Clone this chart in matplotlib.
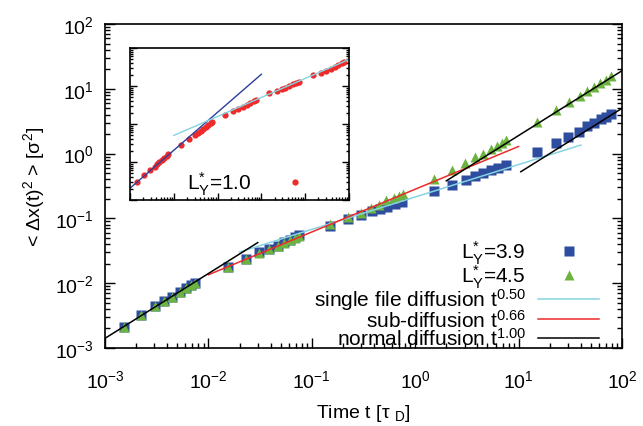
import numpy as np
import matplotlib
matplotlib.use('Agg')
import matplotlib.pyplot as plt
from matplotlib.ticker import LogLocator, NullFormatter

#### Fonts ####
plt.rcParams['font.family'] = ['Liberation Sans', 'DejaVu Sans']
plt.rcParams['mathtext.fontset'] = 'custom'
plt.rcParams['mathtext.rm'] = 'Liberation Sans'
plt.rcParams['mathtext.it'] = 'Liberation Sans:italic'
plt.rcParams['mathtext.bf'] = 'Liberation Sans:bold'
plt.rcParams['axes.unicode_minus'] = False

#### Data: L*_Y = 3.9 (squares) ####
t_39 = [0.00151, 0.00224, 0.00302, 0.00372, 0.00447, 0.00537, 0.00603, 0.00676, 0.00741,
        0.0155, 0.0229, 0.0309, 0.0389, 0.0468, 0.0537, 0.0617, 0.0692, 0.0759,
        0.151, 0.224, 0.302, 0.380, 0.457, 0.537, 0.631, 0.741,
        1.51, 2.29, 3.09, 3.80, 4.57, 5.37, 6.31, 7.59,
        15.1, 22.9, 30.2, 38.0, 45.7, 53.7, 63.1, 70.8, 77.6]
msd_39 = [0.00209, 0.00324, 0.00437, 0.00537, 0.00617, 0.00724, 0.00832, 0.00933, 0.0102,
          0.0178, 0.0240, 0.0302, 0.0339, 0.0380, 0.0427, 0.0468, 0.0513, 0.0550,
          0.0776, 0.0977, 0.112, 0.129, 0.138, 0.151, 0.166, 0.178,
          0.269, 0.331, 0.389, 0.447, 0.501, 0.550, 0.603, 0.676,
          1.07, 1.48, 1.82, 2.19, 2.63, 2.95, 3.39, 3.72, 4.07]

#### Data: L*_Y = 4.5 (triangles) ####
t_45 = [0.00151, 0.00224, 0.00302, 0.00372, 0.00447, 0.00537, 0.00603, 0.00676, 0.00741,
        0.0155, 0.0229, 0.0309, 0.0389, 0.0468, 0.0537, 0.0617, 0.0692, 0.0759,
        0.151, 0.224, 0.302, 0.372, 0.447, 0.525, 0.617, 0.692, 0.759,
        1.51, 2.29, 3.02, 3.80, 4.57, 5.37, 6.17, 6.92, 7.59,
        15.1, 22.9, 30.9, 38.9, 45.7, 53.7, 61.7, 70.8, 77.6]
msd_45 = [0.00209, 0.00324, 0.00437, 0.00537, 0.00617, 0.00724, 0.00832, 0.00933, 0.0102,
          0.0175, 0.0235, 0.0295, 0.0332, 0.0372, 0.0417, 0.0457, 0.0501, 0.0537,
          0.0832, 0.105, 0.120, 0.145, 0.162, 0.191, 0.209, 0.224, 0.240,
          0.407, 0.550, 0.708, 0.871, 1.00, 1.17, 1.32, 1.48, 1.62,
          3.09, 4.68, 6.17, 7.76, 9.33, 10.7, 12.3, 13.8, 15.5]

#### Data: inset, L*_Y = 1.0 ####
t_10 = [0.00141, 0.00214, 0.00288, 0.00363, 0.00407, 0.00468, 0.00525, 0.00603, 0.00692, 0.00741,
        0.0145, 0.0224, 0.0302, 0.0363, 0.0407, 0.0468, 0.0537, 0.0617, 0.0692, 0.0759,
        0.148, 0.224, 0.288, 0.372, 0.457, 0.550, 0.661, 0.759,
        1.51, 2.24, 2.88, 3.47, 4.27, 5.13, 6.17, 7.24,
        15.1, 22.4, 29.5, 38.0, 47.9, 57.5, 67.6, 77.6]
msd_10 = [0.0302, 0.0457, 0.0617, 0.0759, 0.0871, 0.100, 0.112, 0.129, 0.148, 0.158,
          0.282, 0.407, 0.513, 0.589, 0.661, 0.759, 0.851, 0.955, 1.07, 1.15,
          1.74, 2.24, 2.51, 2.88, 3.24, 3.55, 3.98, 4.27,
          6.46, 7.41, 8.32, 9.12, 10.0, 11.0, 12.0, 12.9,
          19.1, 22.4, 25.1, 28.8, 32.4, 35.5, 39.8, 42.7]

#### Power-law guides: (prefactor, exponent, t_start, t_end) ####
fit_single = (0.214, 0.50, 0.02, 40.0)
fit_sub = (0.282, 0.66, 0.01, 10.0)
fit_normal = [(1.41, 1.00, 1e-3, 0.03), (0.19, 1.00, 2.0, 100.0), (0.050, 1.00, 10.5, 100.0)]
fit_inset_normal = (20.4, 1.00, 1e-3, 1.0)
fit_inset_single = (5.0, 0.50, 0.01, 100.0)

def power_law(A, a, t0, t1):
    t = np.logspace(np.log10(t0), np.log10(t1), 50)
    return t, A * t**a

c_blue = '#2e4d9e'
c_green = '#6cb43f'
c_red = '#ee2a2a'
c_cyan = '#86d4e2'
c_navy = '#2b3f9c'

W, H = 643, 427
fig = plt.figure(figsize=(W/100, H/100), dpi=100)

def style_axes(ax, labels=True, major=6, minor=3):
    ax.set_xscale('log')
    ax.set_yscale('log')
    for a in (ax.xaxis, ax.yaxis):
        a.set_major_locator(LogLocator(base=10, numticks=20))
        a.set_minor_locator(LogLocator(base=10, subs=np.arange(2, 10), numticks=20))
        a.set_minor_formatter(NullFormatter())
    ax.tick_params(which='both', direction='in', top=False, right=True, width=1.0)
    ax.tick_params(which='major', length=major)
    ax.tick_params(which='minor', length=minor)
    if not labels:
        ax.set_xticklabels([])
        ax.set_yticklabels([])
    for s in ax.spines.values():
        s.set_linewidth(1.2)

#### Main plot ####
ax = fig.add_axes([105/W, 1 - 349/H, 517/W, 324/H])
style_axes(ax, major=7, minor=3.5)
ax.tick_params(axis='both', labelsize=14)
ax.tick_params(axis='x', pad=15)
ax.tick_params(axis='y', pad=8)

ax.plot(t_39, msd_39, 's', color=c_blue, ms=7.4, mec='none', label=r'L$^{*}_{\mathrm{Y}}$=3.9')
ax.plot(t_45, msd_45, '^', color=c_green, ms=7.0, mec='none', label=r'L$^{*}_{\mathrm{Y}}$=4.5')

tt, yy = power_law(*fit_single)
ax.plot(tt, yy, color=c_cyan, lw=1.1, label=r'single file diffusion t$^{0.50}$')
tt, yy = power_law(*fit_sub)
ax.plot(tt, yy, color=c_red, lw=1.1, label=r'sub-diffusion t$^{0.66}$')
for i, f in enumerate(fit_normal):
    tt, yy = power_law(*f)
    ax.plot(tt, yy, color='black', lw=1.1,
            label=r'normal diffusion t$^{1.00}$' if i == 0 else None)

ax.set_xlim(1e-3, 1e2)
ax.set_ylim(1e-3, 1e2)
ax.set_xlabel(r'Time t [τ $_{\mathrm{D}}$]', fontsize=14, labelpad=8)
ax.set_ylabel(r'< Δx(t)$^{2}$ > [σ$^{2}$]', fontsize=14, labelpad=6)

leg = ax.legend(loc='lower right', bbox_to_anchor=(0.955, -0.003), frameon=False,
                markerfirst=False, fontsize=15, handlelength=2.9, handletextpad=0.6,
                labelspacing=-0.17, borderaxespad=0, borderpad=0)

#### Inset ####
axi = fig.add_axes([130/W, 1 - 201/H, 219/W, 152/H])
style_axes(axi, labels=False, major=5, minor=2.5)
axi.plot(t_10, msd_10, 'o', color=c_red, ms=4.5, mec='none', label=r'L$^{*}_{\mathrm{Y}}$=1.0')
tt, yy = power_law(*fit_inset_normal)
axi.plot(tt, yy, color=c_navy, lw=1.0)
tt, yy = power_law(*fit_inset_single)
axi.plot(tt, yy, color=c_cyan, lw=1.0)
axi.set_xlim(1e-3, 1e2)
axi.set_ylim(1e-2, 1e2)
axi.legend(loc='lower right', bbox_to_anchor=(0.89, 0.02), frameon=False,
           markerfirst=False, fontsize=15, handlelength=2.9, handletextpad=0.6,
           borderaxespad=0, borderpad=0)

fig.savefig('out.png', dpi=100)
